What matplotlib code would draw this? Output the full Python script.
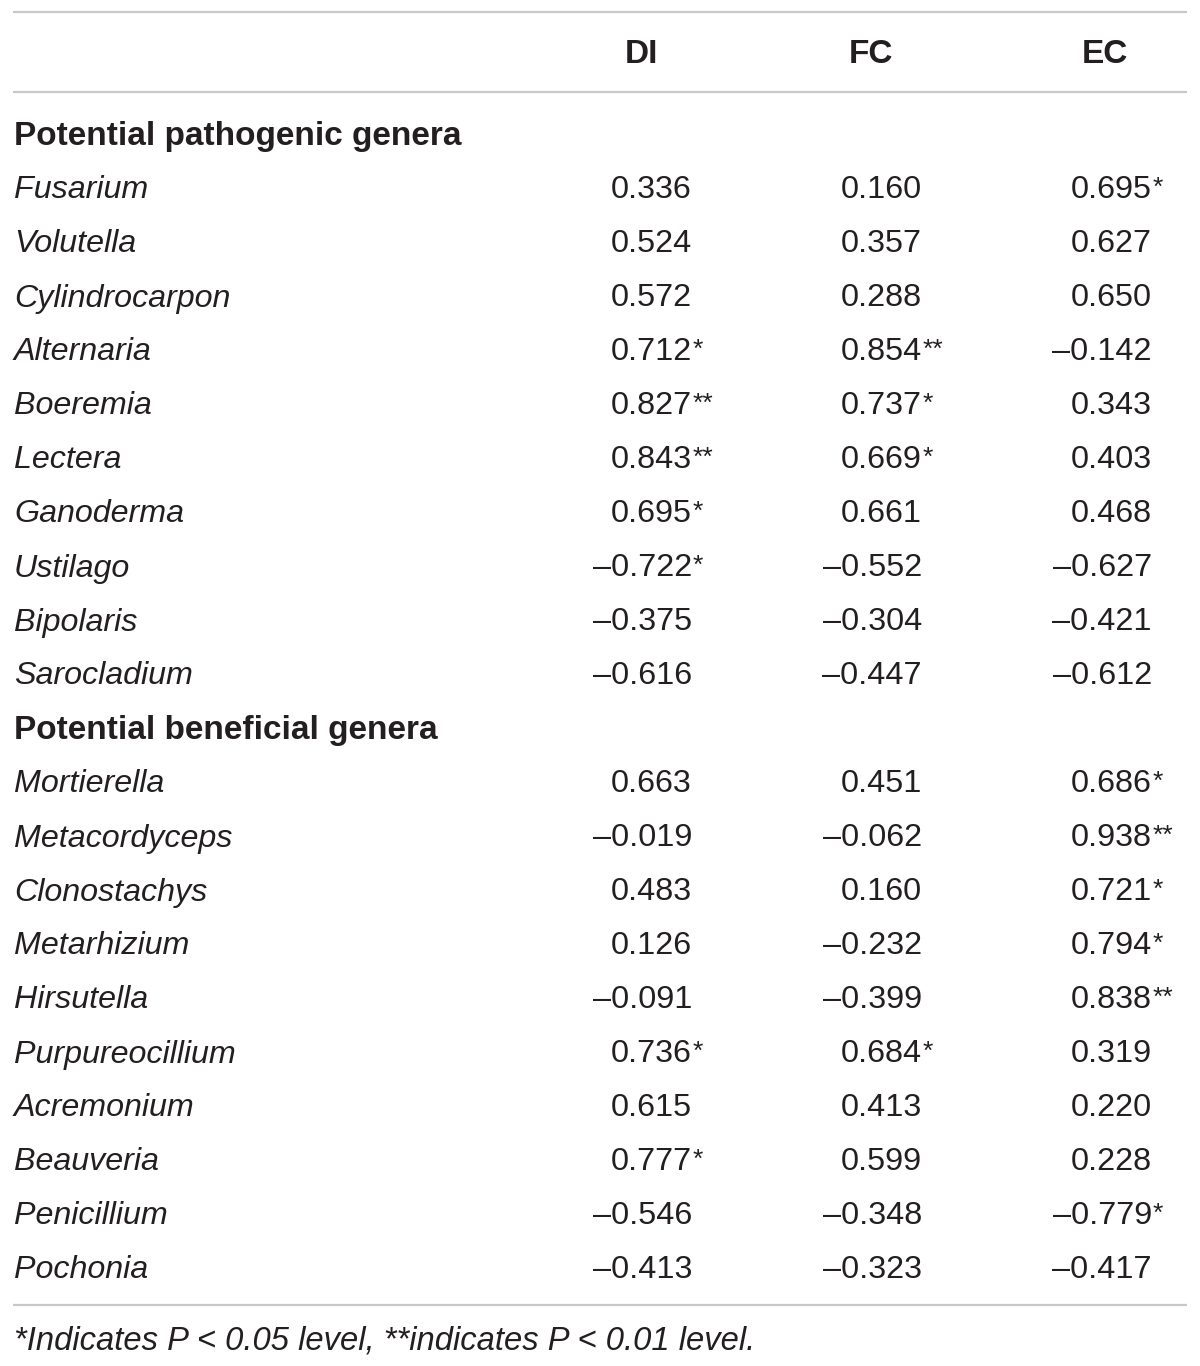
import matplotlib
matplotlib.use("Agg")
import matplotlib.pyplot as plt

columns = ["DI", "FC", "EC"]
group_titles = ["Potential pathogenic genera", "Potential beneficial genera"]
pathogenic = ["Fusarium", "Volutella", "Cylindrocarpon", "Alternaria", "Boeremia",
              "Lectera", "Ganoderma", "Ustilago", "Bipolaris", "Sarocladium"]
beneficial = ["Mortierella", "Metacordyceps", "Clonostachys", "Metarhizium", "Hirsutella",
              "Purpureocillium", "Acremonium", "Beauveria", "Penicillium", "Pochonia"]

path_DI = [0.336, 0.524, 0.572, 0.712, 0.827, 0.843, 0.695, -0.722, -0.375, -0.616]
path_FC = [0.160, 0.357, 0.288, 0.854, 0.737, 0.669, 0.661, -0.552, -0.304, -0.447]
path_EC = [0.695, 0.627, 0.650, -0.142, 0.343, 0.403, 0.468, -0.627, -0.421, -0.612]
path_DI_sig = ["", "", "", "*", "**", "**", "*", "*", "", ""]
path_FC_sig = ["", "", "", "**", "*", "*", "", "", "", ""]
path_EC_sig = ["*", "", "", "", "", "", "", "", "", ""]

ben_DI = [0.663, -0.019, 0.483, 0.126, -0.091, 0.736, 0.615, 0.777, -0.546, -0.413]
ben_FC = [0.451, -0.062, 0.160, -0.232, -0.399, 0.684, 0.413, 0.599, -0.348, -0.323]
ben_EC = [0.686, 0.938, 0.721, 0.794, 0.838, 0.319, 0.220, 0.228, -0.779, -0.417]
ben_DI_sig = ["", "", "", "", "", "*", "", "*", "", ""]
ben_FC_sig = ["", "", "", "", "", "*", "", "", "", ""]
ben_EC_sig = ["*", "**", "*", "*", "**", "", "", "", "*", ""]

footnote = "*Indicates P < 0.05 level, **indicates P < 0.01 level."

W, H = 1200, 1366
fig = plt.figure(figsize=(W / 100, H / 100), dpi=100)
ax = fig.add_axes([0, 0, 1, 1])
ax.set_xlim(0, W)
ax.set_ylim(H, 0)
ax.axis("off")

FONT = "Liberation Sans"
TXT = "#231f20"
LINE = "#c8c8c8"
DY = 2.5

def fmt(v):
    s = f"{abs(v):.3f}"
    return ("\u2013" + s) if v < 0 else s

# horizontal rules
for y in (12, 92, 1305):
    ax.plot([13, 1187], [y, y], color=LINE, lw=1.6, solid_capstyle="butt")

# header
hdr_x = [641, 871, 1105]
for c, x in zip(columns, hdr_x):
    ax.text(x, 52 + DY, c, ha="center", va="center", fontsize=24, fontweight="bold",
            family=FONT, color=TXT)

num_right = [692, 922, 1152]
row_h = 54
y = 134

groups = [
    (group_titles[0], pathogenic, [path_DI, path_FC, path_EC], [path_DI_sig, path_FC_sig, path_EC_sig]),
    (group_titles[1], beneficial, [ben_DI, ben_FC, ben_EC], [ben_DI_sig, ben_FC_sig, ben_EC_sig]),
]
for title, names, vals, sigs in groups:
    ax.text(14, y + DY, title, ha="left", va="center", fontsize=24, fontweight="bold",
            family=FONT, color=TXT)
    y += row_h
    for i, name in enumerate(names):
        ax.text(14, y + DY, name, ha="left", va="center", fontsize=23.2, style="italic",
                family=FONT, color=TXT)
        for j in range(3):
            ax.text(num_right[j], y + DY, fmt(vals[j][i]), ha="right", va="center",
                    fontsize=23.3, family=FONT, color=TXT)
            if sigs[j][i]:
                ax.text(num_right[j] + 1, y + DY - 3, sigs[j][i], ha="left", va="center",
                        fontsize=19, family=FONT, color=TXT)
        y += row_h

ax.text(14, 1338 + DY, footnote, ha="left", va="center", fontsize=23.6, style="italic",
        family=FONT, color=TXT)

fig.savefig("out.png", dpi=100, facecolor="white")
